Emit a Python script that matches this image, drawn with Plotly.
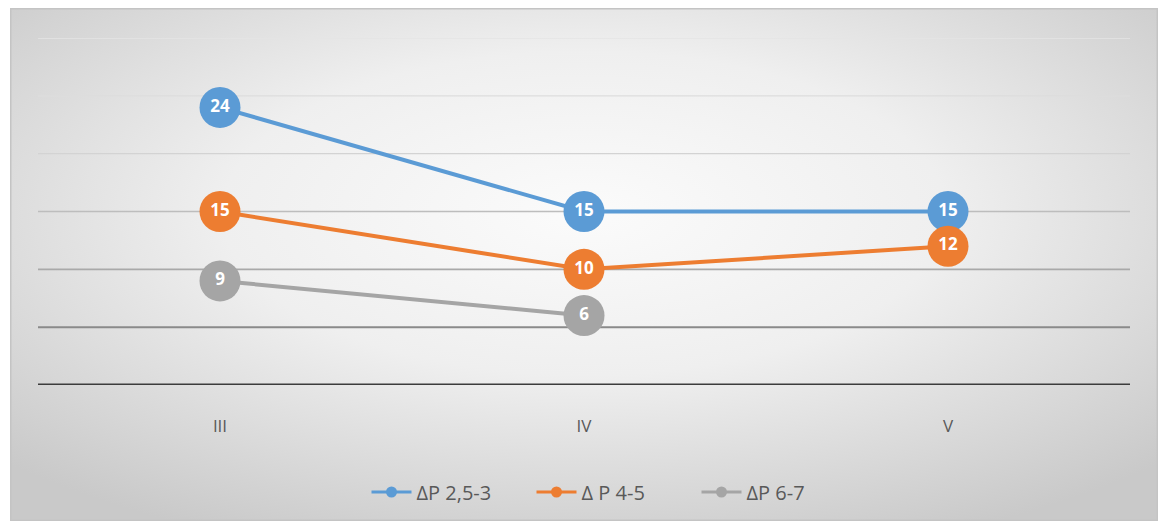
import base64
import plotly.graph_objects as go

# Categories and series values
categories = ["III", "IV", "V"]
series_names = ["ΔP 2,5-3", "Δ P 4-5", "ΔP 6-7"]
dp_25_3 = [24, 15, 15]
dp_4_5 = [15, 10, 12]
dp_6_7 = [9, 6, None]
series_values = [dp_25_3, dp_4_5, dp_6_7]
series_colors = ["#5b9bd5", "#ed7d31", "#a5a5a5"]

# Horizontal gridlines: value and colour (darker towards the base)
grid_values = [0, 5, 10, 15, 20, 25, 30]
grid_colors = ["#3c3c3c", "#8a8a8a", "#a9a9a9", "#bdbdbd", "#d3d3d3", "#dddddd", "#e4e4e4"]
grid_widths = [3, 2, 1.6, 1.5, 1.4, 1.4, 1.4]

fig = go.Figure()

for name, vals, col in zip(series_names, series_values, series_colors):
    fig.add_trace(go.Scatter(
        x=categories, y=vals, mode="lines+markers+text",
        line=dict(color=col, width=4),
        marker=dict(size=41, color=col),
        text=[("" if v is None else str(v)) for v in vals],
        textposition="middle center",
        textfont=dict(color="white", size=17, family="Open Sans", weight="bold"),
        showlegend=False, hoverinfo="skip", cliponaxis=False,
    ))

# Legend entries with small markers
for name, col in zip(series_names, series_colors):
    fig.add_trace(go.Scatter(
        x=[None], y=[None], mode="lines+markers", name=name,
        line=dict(color=col, width=3), marker=dict(size=11, color=col),
    ))

shapes = []
for v, c, w in zip(grid_values, grid_colors, grid_widths):
    shapes.append(dict(type="line", xref="paper", x0=0, x1=1, yref="y", y0=v, y1=v,
                       line=dict(color=c, width=w), layer="below"))

# Soft radial gradient panel behind the chart
svg = (
    '<svg xmlns="http://www.w3.org/2000/svg" width="1148" height="513" '
    'preserveAspectRatio="none" viewBox="0 0 1148 513">'
    '<defs><radialGradient id="g" cx="50%" cy="40%" r="70%">'
    '<stop offset="0" stop-color="#fbfbfb"/>'
    '<stop offset="0.45" stop-color="#efefef"/>'
    '<stop offset="1" stop-color="#c9c9c9"/>'
    '</radialGradient></defs>'
    '<rect x="0" y="0" width="1148" height="513" fill="url(#g)" stroke="#c4c4c4" stroke-width="3"/>'
    '</svg>'
)
src = "data:image/svg+xml;base64," + base64.b64encode(svg.encode()).decode()

L, T, R, B = 38, 38, 39, 143
pw, ph = 1169 - L - R, 528 - T - B
fx0, fx1 = (10 - L) / pw, (1158 - L) / pw
fy1, fy0 = (385 - 8) / ph, (385 - 521) / ph

fig.update_layout(
    width=1169, height=528,
    margin=dict(l=L, r=R, t=T, b=B),
    paper_bgcolor="white", plot_bgcolor="rgba(0,0,0,0)",
    images=[dict(source=src, xref="paper", yref="paper", x=fx0, y=fy1,
                 sizex=fx1 - fx0, sizey=fy1 - fy0, sizing="stretch",
                 xanchor="left", yanchor="top", layer="below")],
    shapes=shapes,
    xaxis=dict(range=[-0.5, 2.5], showgrid=False, zeroline=False, showline=False,
               ticks="", ticklabelstandoff=29,
               tickfont=dict(family="Open Sans", size=17, color="#595959")),
    yaxis=dict(range=[0, 30], showgrid=False, zeroline=False, showline=False,
               showticklabels=False),
    legend=dict(orientation="h", x=0.5 + 30 / pw, xanchor="center", y=(385 - 492) / ph,
                yanchor="middle", font=dict(family="Open Sans", size=20, color="#595959"),
                entrywidth=110, itemwidth=40,
                bgcolor="rgba(0,0,0,0)"),
    showlegend=True,
)

fig.write_html("out.html")
